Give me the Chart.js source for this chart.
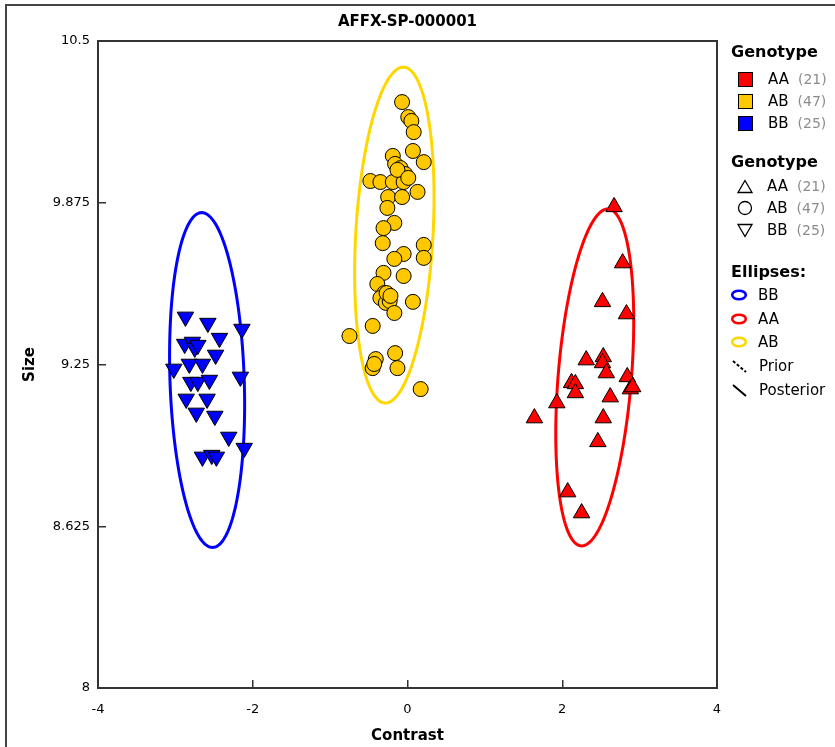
<!DOCTYPE html>
<html lang="en">
<head>
    <meta charset="UTF-8">
    <title>AFFX-SP-000001</title>
    <script src="https://cdn.jsdelivr.net/npm/chart.js"></script>
    <style>
        body {
            margin: 0;
            padding: 0;
            background: #fff;
            font-family: "DejaVu Sans", sans-serif;
        }

        .wrap {
            position: relative;
            width: 835px;
            height: 747px;
            overflow: hidden;
        }

        .frame {
            position: absolute;
            left: 5px;
            top: 4px;
            width: 840px;
            height: 760px;
            border-top: 2px solid #444;
            border-left: 2px solid #444;
            pointer-events: none;
        }

        canvas {
            position: absolute;
            left: 0;
            top: 0;
        }

        .legend .row {
            position: absolute;
            height: 22px;
            line-height: 22px;
            display: flex;
            align-items: center;
            font-size: 15px;
            color: #000;
            white-space: nowrap;
        }

        .legend .head {
            font-weight: bold;
            font-size: 16px;
        }

        .legend .count {
            color: #8c8c8c;
            margin-left: 9px;
            font-size: 14px;
        }

        .swatch {
            width: 13px;
            height: 13px;
            border: 1px solid #000;
            margin-right: 15px;
        }

        .legend svg {
            margin-right: 14px;
        }
    </style>
</head>
<body>
<div class="wrap">
    <canvas id="chart" width="835" height="747"></canvas>
    <div class="frame"></div>
    <div class="legend" id="legend"></div>
</div>

<script>
    const chartTitle = 'AFFX-SP-000001';

    // Genotype clusters (Contrast, Size)
    const aaContrast = [2.67, 2.78, 2.52, 2.83, 2.31, 2.53, 2.52, 2.57, 2.84, 2.88, 2.91,
                        2.12, 2.17, 2.17, 2.62, 1.93, 1.64, 2.53, 2.46, 2.07, 2.25];
    const aaSize = [9.859, 9.642, 9.492, 9.445, 9.267, 9.279, 9.256, 9.217, 9.202, 9.155, 9.163,
                    9.179, 9.175, 9.140, 9.124, 9.101, 9.043, 9.043, 8.951, 8.757, 8.676];

    const abContrast = [-0.07, 0.01, 0.05, 0.08, 0.07, 0.21, -0.19, -0.16, -0.09, -0.10, -0.03,
                        -0.48, -0.35, -0.19, -0.05, 0.13, -0.25, -0.07, -0.26, -0.17, -0.31,
                        -0.32, 0.21, 0.21, -0.05, -0.17, -0.31, -0.05, -0.39, -0.30, -0.35,
                        -0.28, -0.23, -0.17, 0.07, -0.45, -0.75, -0.16, -0.41, -0.45, -0.13,
                        0.17, -0.13, 0.01, -0.27, -0.22, -0.43];
    const abSize = [10.264, 10.206, 10.191, 10.148, 10.075, 10.032, 10.056, 10.025, 10.009, 9.978, 9.986,
                    9.959, 9.955, 9.955, 9.955, 9.917, 9.897, 9.897, 9.855, 9.797, 9.777,
                    9.719, 9.712, 9.662, 9.677, 9.658, 9.604, 9.592, 9.561, 9.526, 9.507,
                    9.488, 9.495, 9.449, 9.492, 9.399, 9.360, 9.294, 9.271, 9.236, 9.236,
                    9.155, 10.002, 9.971, 9.526, 9.515, 9.252];

    const bbContrast = [-2.87, -2.58, -2.14, -2.88, -2.78, -2.75, -2.43, -2.48, -3.02, -2.82, -2.65,
                        -2.16, -2.80, -2.71, -2.56, -2.86, -2.59, -2.73, -2.49, -2.31, -2.11,
                        -2.65, -2.53, -2.47, -2.71];
    const bbSize = [9.434, 9.410, 9.387, 9.329, 9.337, 9.314, 9.352, 9.287, 9.233, 9.252, 9.252,
                    9.202, 9.182, 9.182, 9.190, 9.117, 9.117, 9.063, 9.051, 8.970, 8.927,
                    8.893, 8.900, 8.893, 9.325];

    // posterior ellipses: centre, half extents and vertical lean, in data units
    const ellipseNames = ['BB', 'AA', 'AB'];
    const ellipseCx = [-2.59, 2.42, -0.17];
    const ellipseCy = [9.19, 9.20, 9.75];
    const ellipseRx = [0.48, 0.475, 0.50];
    const ellipseRy = [0.647, 0.651, 0.649];
    const ellipseLean = [-0.07, 0.168, 0.116];
    const ellipseColors = ['#0000ff', '#ff0000', '#ffd700'];

    const xTicks = [-4, -2, 0, 2, 4];
    const yTicks = [8, 8.625, 9.25, 9.875, 10.5];

    const toPoints = (xs, ys) => xs.map((x, i) => ({ x: x, y: ys[i] }));

    // ellipses go under the points, box and title go over everything
    const ellipsePlugin = {
        id: 'ellipses',
        beforeDatasetsDraw(chart) {
            const { ctx, scales: { x, y } } = chart;
            ctx.save();
            ctx.lineWidth = 3;
            ellipseNames.forEach((name, i) => {
                ctx.strokeStyle = ellipseColors[i];
                ctx.beginPath();
                for (let k = 0; k <= 180; k++) {
                    const t = k / 180 * Math.PI * 2;
                    const dx = ellipseCx[i] + ellipseRx[i] * Math.cos(t) + ellipseLean[i] * Math.sin(t);
                    const dy = ellipseCy[i] + ellipseRy[i] * Math.sin(t);
                    const px = x.getPixelForValue(dx);
                    const py = y.getPixelForValue(dy);
                    if (k === 0) ctx.moveTo(px, py); else ctx.lineTo(px, py);
                }
                ctx.closePath();
                ctx.stroke();
            });
            ctx.restore();
        },
        afterDraw(chart) {
            const { ctx, chartArea: a } = chart;
            ctx.save();
            ctx.strokeStyle = '#333';
            ctx.lineWidth = 2;
            ctx.strokeRect(a.left, a.top, a.right - a.left, a.bottom - a.top);
            // title centred over the plot box, not the whole canvas
            ctx.fillStyle = '#000';
            ctx.font = 'bold 15px "DejaVu Sans", sans-serif';
            ctx.textAlign = 'center';
            ctx.textBaseline = 'middle';
            ctx.fillText(chartTitle, (a.left + a.right) / 2, 22);
            ctx.restore();
        }
    };

    Chart.defaults.font.family = '"DejaVu Sans", sans-serif';
    Chart.defaults.font.size = 13;
    Chart.defaults.color = '#000';

    new Chart(document.getElementById('chart'), {
        type: 'scatter',
        data: {
            datasets: [
                {
                    label: 'AB',
                    data: toPoints(abContrast, abSize),
                    pointStyle: 'circle',
                    pointRadius: 7.5,
                    backgroundColor: '#ffc800',
                    borderColor: '#000',
                    borderWidth: 1
                },
                {
                    label: 'AA',
                    data: toPoints(aaContrast, aaSize),
                    pointStyle: 'triangle',
                    pointRadius: 9.5,
                    backgroundColor: '#ff0000',
                    borderColor: '#000',
                    borderWidth: 1
                },
                {
                    label: 'BB',
                    data: toPoints(bbContrast, bbSize),
                    pointStyle: 'triangle',
                    pointRotation: 180,
                    pointRadius: 9.5,
                    backgroundColor: '#0000ff',
                    borderColor: '#000',
                    borderWidth: 1
                }
            ]
        },
        options: {
            responsive: false,
            animation: false,
            layout: { padding: { left: 0, right: 118, top: 41, bottom: 0 } },
            plugins: {
                legend: { display: false },
                tooltip: { enabled: false },
                title: { display: false }
            },
            scales: {
                x: {
                    type: 'linear',
                    min: -4,
                    max: 4,
                    afterBuildTicks: axis => { axis.ticks = xTicks.map(v => ({ value: v })); },
                    afterFit: axis => { axis.height = 59; },
                    ticks: { padding: 22, callback: v => String(v) },
                    grid: { drawOnChartArea: false, tickLength: -8, color: '#333', lineWidth: 1.5 },
                    border: { display: false },
                    title: {
                        display: true,
                        text: 'Contrast',
                        font: { size: 15, weight: 'bold' },
                        padding: { top: 0, bottom: 2 }
                    }
                },
                y: {
                    type: 'linear',
                    min: 8,
                    max: 10.5,
                    afterBuildTicks: axis => { axis.ticks = yTicks.map(v => ({ value: v })); },
                    afterFit: axis => { axis.width = 98; },
                    ticks: { padding: 16, callback: v => String(v) },
                    grid: { drawOnChartArea: false, tickLength: -8, color: '#333', lineWidth: 1.5 },
                    border: { display: false },
                    title: {
                        display: true,
                        text: 'Size',
                        font: { size: 15, weight: 'bold' },
                        padding: { top: 21, bottom: 0 }
                    }
                }
            }
        },
        plugins: [ellipsePlugin]
    });

    // legend, built as html beside the plot
    const genotypes = ['AA', 'AB', 'BB'];
    const genotypeCounts = [aaContrast.length, abContrast.length, bbContrast.length];
    const genotypeColors = ['#ff0000', '#ffc800', '#0000ff'];
    const shapeIcons = [
        '<svg width="16" height="15"><polygon points="8,1.5 15,13.5 1,13.5" fill="none" stroke="#000" stroke-width="1.3"/></svg>',
        '<svg width="16" height="16"><circle cx="8" cy="8" r="6.5" fill="none" stroke="#000" stroke-width="1.3"/></svg>',
        '<svg width="16" height="15"><polygon points="1,1.5 15,1.5 8,13.5" fill="none" stroke="#000" stroke-width="1.3"/></svg>'
    ];

    const legend = document.getElementById('legend');
    function addRow(x, cy, html, cls) {
        const d = document.createElement('div');
        d.className = 'row' + (cls ? ' ' + cls : '');
        d.style.left = x + 'px';
        d.style.top = (cy - 11) + 'px';
        d.innerHTML = html;
        legend.appendChild(d);
    }

    addRow(731, 52, 'Genotype', 'head');
    genotypes.forEach((g, i) => {
        addRow(738, 79 + i * 22,
            '<span class="swatch" style="background:' + genotypeColors[i] + '"></span>' +
            g + '<span class="count">(' + genotypeCounts[i] + ')</span>');
    });

    addRow(731, 162, 'Genotype', 'head');
    genotypes.forEach((g, i) => {
        addRow(737, 186 + i * 22,
            shapeIcons[i] + g + '<span class="count">(' + genotypeCounts[i] + ')</span>');
    });

    addRow(731, 272, 'Ellipses:', 'head');
    ellipseNames.forEach((name, i) => {
        addRow(730, 295 + i * 23.5,
            '<svg width="18" height="12" style="margin-right:10px"><ellipse cx="9" cy="6" rx="6.8" ry="4.3" fill="none" stroke="' +
            ellipseColors[i] + '" stroke-width="2.6"/></svg>' + name);
    });
    addRow(731, 366,
        '<svg width="16" height="14" style="margin-right:12px"><line x1="2" y1="2" x2="15" y2="13" stroke="#000" stroke-width="2" stroke-dasharray="3,2"/></svg>Prior');
    addRow(731, 390,
        '<svg width="16" height="14" style="margin-right:12px"><line x1="2" y1="2" x2="15" y2="13" stroke="#000" stroke-width="2"/></svg>Posterior');
</script>
</body>
</html>
